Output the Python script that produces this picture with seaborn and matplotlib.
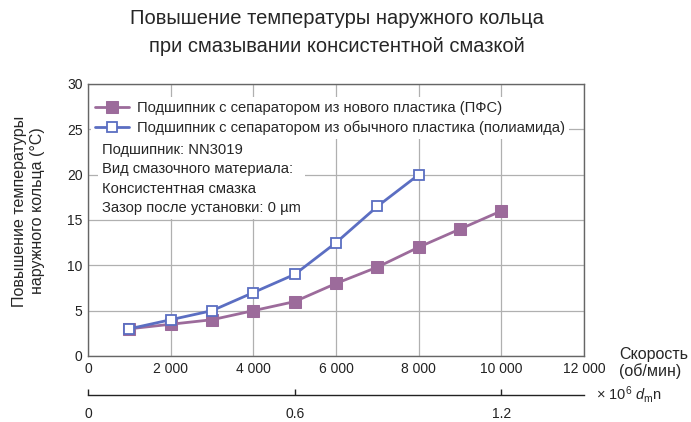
import matplotlib
matplotlib.use("Agg")
import matplotlib.pyplot as plt
import seaborn as sns
import pandas as pd

sns.set_theme(style="white")
plt.rcParams['font.family'] = ['Liberation Sans', 'DejaVu Sans']
plt.rcParams['mathtext.fontset'] = 'custom'
plt.rcParams['mathtext.rm'] = 'Liberation Sans'
plt.rcParams['mathtext.it'] = 'Liberation Sans:italic'

# Data
speed_pps = [1000, 2000, 3000, 4000, 5000, 6000, 7000, 8000, 9000, 10000]
temp_pps = [3, 3.5, 4, 5, 6, 8, 9.8, 12, 14, 16]
speed_pa = [1000, 2000, 3000, 4000, 5000, 6000, 7000, 8000]
temp_pa = [3, 4, 5, 7, 9, 12.5, 16.5, 20]
label_pps = "Подшипник с сепаратором из нового пластика (ПФС)"
label_pa = "Подшипник с сепаратором из обычного пластика (полиамида)"
x_ticks = [0, 2000, 4000, 6000, 8000, 10000, 12000]
x_tick_labels = ["0", "2 000", "4 000", "6 000", "8 000", "10 000", "12 000"]
y_ticks = [0, 5, 10, 15, 20, 25, 30]
dmn_ticks = [0, 0.6, 1.2]
dmn_tick_labels = ["0", "0.6", "1.2"]
dmn_factor = 1.2e-4

purple = "#9c6b9b"
blue = "#5b6ec2"

df_pps = pd.DataFrame({"speed": speed_pps, "temp": temp_pps})
df_pa = pd.DataFrame({"speed": speed_pa, "temp": temp_pa})

fig = plt.figure(figsize=(6.91, 4.22), dpi=100)
ax = fig.add_axes([0.1274, 0.1564, 0.7178, 0.6446])

sns.lineplot(data=df_pps, x="speed", y="temp", ax=ax, color=purple, lw=2,
             marker="s", markersize=8, markerfacecolor=purple, markeredgecolor=purple,
             label=label_pps, zorder=3)
sns.lineplot(data=df_pa, x="speed", y="temp", ax=ax, color=blue, lw=2,
             marker="s", markersize=7, markerfacecolor="white", markeredgecolor=blue,
             markeredgewidth=1.3, label=label_pa, zorder=4)

ax.set_xlim(0, 12000)
ax.set_ylim(0, 30)
ax.set_xticks(x_ticks)
ax.set_xticklabels(x_tick_labels)
ax.set_yticks(y_ticks)
ax.tick_params(axis="both", length=0, labelsize=10, colors="#222222", pad=4)
ax.grid(True, color="#b0b0b0", lw=0.9)
for s in ax.spines.values():
    s.set_color("#666666")
    s.set_linewidth(1.0)
ax.set_xlabel("")
ax.set_ylabel("")

leg = ax.legend(loc="upper left", bbox_to_anchor=(0.0, 0.963), frameon=True, fontsize=10.6,
                handlelength=2.3, borderaxespad=0.2, borderpad=0.3, labelspacing=0.35,
                handletextpad=0.5)
leg.get_frame().set_facecolor("white")
leg.get_frame().set_edgecolor("none")
leg.get_frame().set_alpha(1)

ax.text(0.028, 0.782, "Подшипник: NN3019\nВид смазочного материала:\nКонсистентная смазка\nЗазор после установки: 0 µm",
        transform=ax.transAxes, va="top", ha="left", fontsize=10.6, linespacing=1.47,
        bbox=dict(facecolor="white", edgecolor="none", pad=3), zorder=5)

# Secondary dmn axis
sec = ax.secondary_xaxis(-0.143, functions=(lambda x: x * dmn_factor, lambda x: x / dmn_factor))
sec.set_xticks(dmn_ticks)
sec.set_xticklabels(dmn_tick_labels)
sec.tick_params(direction="in", length=4, width=1, labelsize=10, pad=9, colors="#222222")
sec.spines["bottom"].set_color("#222222")
sec.spines["bottom"].set_linewidth(1.0)

fig.text(0.863, 0.064, r"× 10$^6$ $d_\mathrm{m}$n", fontsize=10.5, va="center", ha="left")
fig.text(0.896, 0.140, "Скорость\n(об/мин)", fontsize=11.5, va="center", ha="left", linespacing=1.15)

fig.text(0.041, 0.5, "Повышение температуры\nнаружного кольца (°C)", fontsize=11.5,
         rotation=90, ha="center", va="center", multialignment="center", linespacing=1.3)

fig.text(0.488, 0.923, "Повышение температуры наружного кольца\nпри смазывании консистентной смазкой",
         fontsize=14.5, ha="center", va="center", linespacing=1.55)

fig.savefig("out.png", dpi=100)
